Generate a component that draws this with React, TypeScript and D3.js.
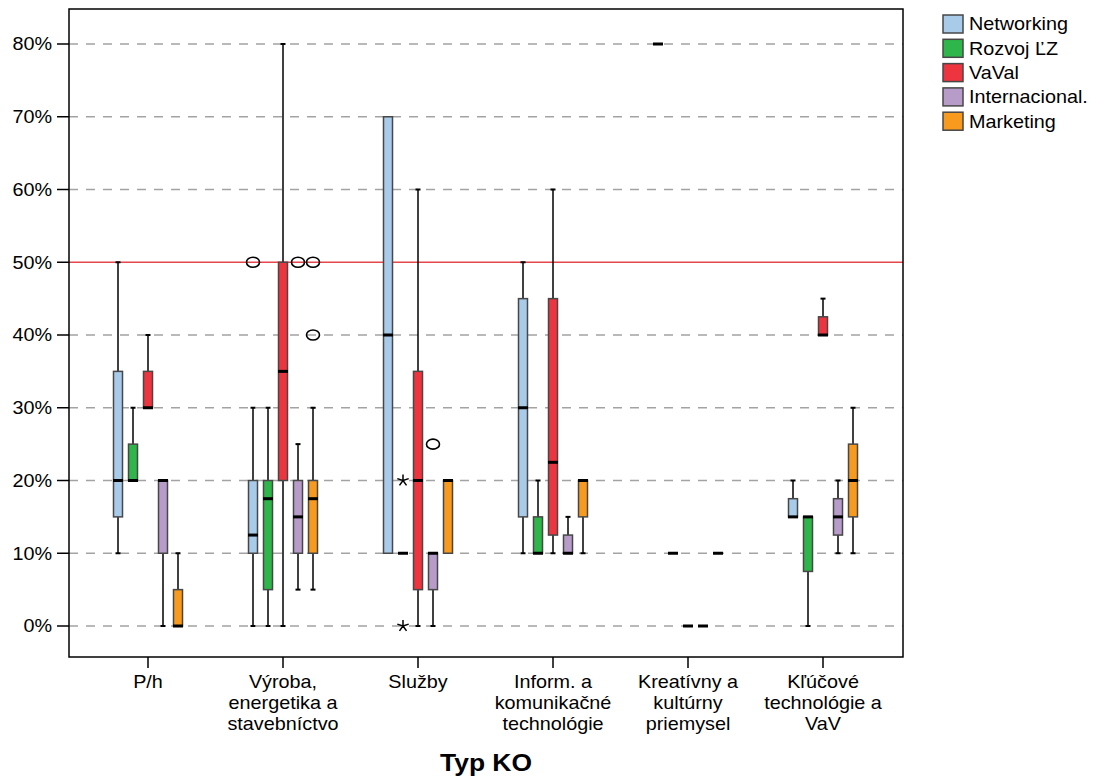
import React from "react";
import * as d3 from "d3";

// Category labels (each entry is split into lines on the axis)
const categories: string[][] = [
  ["P/h"],
  ["Výroba,", "energetika a", "stavebníctvo"],
  ["Služby"],
  ["Inform. a", "komunikačné", "technológie"],
  ["Kreatívny a", "kultúrny", "priemysel"],
  ["Kľúčové", "technológie a", "VaV"],
];

const seriesNames = ["Networking", "Rozvoj ĽZ", "VaVal", "Internacional.", "Marketing"];
const seriesColors = ["#a9cbea", "#2fb64a", "#ee343e", "#b79cc9", "#f79a1e"];

// Box statistics per category: [min, q1, median, q3, max] in percent
const networking: number[][] = [
  [10, 15, 20, 35, 50],
  [0, 10, 12.5, 20, 30],
  [10, 10, 40, 70, 70],
  [10, 15, 30, 45, 50],
  [80, 80, 80, 80, 80],
  [15, 15, 15, 17.5, 20],
];
const rozvoj: number[][] = [
  [20, 20, 20, 25, 30],
  [0, 5, 17.5, 20, 30],
  [10, 10, 10, 10, 10],
  [10, 10, 10, 15, 20],
  [10, 10, 10, 10, 10],
  [0, 7.5, 15, 15, 15],
];
const vaval: number[][] = [
  [30, 30, 30, 35, 40],
  [0, 20, 35, 50, 80],
  [0, 5, 20, 35, 60],
  [10, 12.5, 22.5, 45, 60],
  [0, 0, 0, 0, 0],
  [40, 40, 40, 42.5, 45],
];
const internacional: number[][] = [
  [0, 10, 20, 20, 20],
  [5, 10, 15, 20, 25],
  [0, 5, 10, 10, 10],
  [10, 10, 10, 12.5, 15],
  [0, 0, 0, 0, 0],
  [10, 12.5, 15, 17.5, 20],
];
const marketing: number[][] = [
  [0, 0, 0, 5, 10],
  [5, 10, 17.5, 20, 30],
  [10, 10, 20, 20, 20],
  [10, 15, 20, 20, 20],
  [10, 10, 10, 10, 10],
  [10, 15, 20, 25, 30],
];
const seriesStats = [networking, rozvoj, vaval, internacional, marketing];

// Outliers: [categoryIndex, seriesIndex, value]
const outliers: number[][] = [
  [1, 0, 50],
  [1, 3, 50],
  [1, 4, 50],
  [1, 4, 40],
  [2, 3, 25],
];
// Extreme values (drawn as stars)
const extremes: number[][] = [
  [2, 1, 20],
  [2, 1, 0],
];

const yTicks = [0, 10, 20, 30, 40, 50, 60, 70, 80];
const referenceValue = 50;

const W = 1093;
const H = 778;
const plot = { left: 69, top: 9, right: 903, bottom: 657 };
const FONT = "'Liberation Sans', Arial, sans-serif";
const STRETCH = 1.1;

// Text drawn with a slight horizontal stretch around its anchor point
function WideText(props: {
  x: number;
  y: number;
  anchor?: "start" | "middle" | "end";
  size: number;
  bold?: boolean;
  dy?: string;
  children: React.ReactNode;
}) {
  const { x, y, anchor = "start", size, bold, dy, children } = props;
  return (
    <g transform={`translate(${x},${y}) scale(${STRETCH},1)`}>
      <text x={0} y={0} dy={dy} textAnchor={anchor} fontSize={size} fontWeight={bold ? "bold" : "normal"} fill="#000">
        {children}
      </text>
    </g>
  );
}

export default function App() {
  const catKeys = categories.map((c) => c.join(" "));
  const x = d3.scaleBand<string>().domain(catKeys).range([80.5, 890.5]);
  const xs = d3.scaleBand<string>().domain(seriesNames).range([-37.5, 37.5]);
  const y = d3.scaleLinear().domain([0, 80]).range([626, 44]);
  const boxW = 9;

  const cx = (ci: number, si: number) =>
    (x(catKeys[ci]) as number) + x.bandwidth() / 2 + (xs(seriesNames[si]) as number) + xs.bandwidth() / 2;

  const starPath = (r: number) => {
    let p = "";
    for (let k = 0; k < 5; k++) {
      const a = (-90 + k * 72) * (Math.PI / 180);
      p += `M0,0L${(r * Math.cos(a)).toFixed(2)},${(r * Math.sin(a)).toFixed(2)}`;
    }
    return p;
  };

  return (
    <svg width={W} height={H} style={{ position: "absolute", left: 0, top: 0, background: "#fff" }} fontFamily={FONT}>
      <rect x={0} y={0} width={W} height={H} fill="#fff" />
      {/* grid */}
      {yTicks
        .filter((t) => t !== referenceValue)
        .map((t) => (
          <line key={"g" + t} x1={plot.left} x2={plot.right} y1={y(t)} y2={y(t)} stroke="#a3a3a3" strokeWidth={1.5} strokeDasharray="9,8" />
        ))}
      <line x1={plot.left} x2={plot.right} y1={y(referenceValue)} y2={y(referenceValue)} stroke="#e5474d" strokeWidth={1.6} />

      {/* y axis */}
      {yTicks.map((t) => (
        <g key={"t" + t}>
          <line x1={57} x2={plot.left} y1={y(t)} y2={y(t)} stroke="#000" strokeWidth={1.5} />
          <WideText x={52} y={y(t)} dy="0.36em" anchor="end" size={18}>
            {t + "%"}
          </WideText>
        </g>
      ))}

      {/* x axis */}
      {categories.map((lines, ci) => {
        const c = (x(catKeys[ci]) as number) + x.bandwidth() / 2;
        return (
          <g key={"c" + ci}>
            <line x1={c} x2={c} y1={plot.bottom} y2={668} stroke="#000" strokeWidth={1.5} />
            {lines.map((l, li) => (
              <WideText key={li} x={c} y={688 + li * 21} anchor="middle" size={18}>
                {l}
              </WideText>
            ))}
          </g>
        );
      })}
      <WideText x={486} y={771} anchor="middle" size={24} bold>
        Typ KO
      </WideText>

      {/* boxes */}
      {seriesStats.map((rows, si) =>
        rows.map((s, ci) => {
          const [mn, q1, md, q3, mx] = s;
          const c = cx(ci, si);
          const degenerate = q1 === q3;
          return (
            <g key={`b${si}-${ci}`}>
              {mx > q3 && (
                <>
                  <line x1={c} x2={c} y1={y(mx)} y2={y(q3)} stroke="#000" strokeWidth={1.5} />
                  <line x1={c - 2.5} x2={c + 2.5} y1={y(mx)} y2={y(mx)} stroke="#000" strokeWidth={2} />
                </>
              )}
              {mn < q1 && (
                <>
                  <line x1={c} x2={c} y1={y(q1)} y2={y(mn)} stroke="#000" strokeWidth={1.5} />
                  <line x1={c - 2.5} x2={c + 2.5} y1={y(mn)} y2={y(mn)} stroke="#000" strokeWidth={2} />
                </>
              )}
              {!degenerate && (
                <rect
                  x={c - boxW / 2}
                  y={y(q3)}
                  width={boxW}
                  height={y(q1) - y(q3)}
                  fill={seriesColors[si]}
                  stroke="#474747"
                  strokeWidth={1.5}
                />
              )}
              <rect x={c - boxW / 2 - 0.5} y={y(md) - 1.5} width={boxW + 1} height={3} fill="#000" />
            </g>
          );
        })
      )}

      {/* outliers */}
      {outliers.map(([ci, si, v], i) => (
        <ellipse key={"o" + i} cx={cx(ci, si)} cy={y(v)} rx={6.5} ry={5} fill="none" stroke="#000" strokeWidth={1.6} />
      ))}
      {extremes.map(([ci, si, v], i) => (
        <path key={"e" + i} transform={`translate(${cx(ci, si)},${y(v)})`} d={starPath(6)} stroke="#000" strokeWidth={1.5} fill="none" />
      ))}

      {/* frame */}
      <rect x={plot.left} y={plot.top} width={plot.right - plot.left} height={plot.bottom - plot.top} fill="none" stroke="#000" strokeWidth={1.5} />

      {/* legend */}
      {seriesNames.map((n, i) => (
        <g key={"l" + i}>
          <rect x={943} y={15 + i * 24.3} width={20} height={18} fill={seriesColors[i]} stroke="#474747" strokeWidth={1.5} />
          <WideText x={969} y={24 + i * 24.3} dy="0.36em" size={18}>
            {n}
          </WideText>
        </g>
      ))}
    </svg>
  );
}
